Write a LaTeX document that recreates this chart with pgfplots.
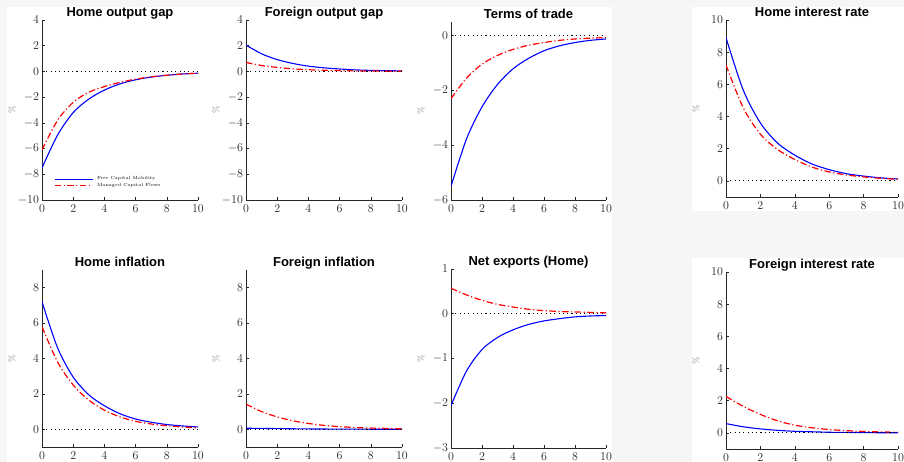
\documentclass[border=0pt]{standalone}
\usepackage{fontspec}
\usepackage{pgfplots}
\pgfplotsset{compat=1.18}
\newfontfamily\titlefont{Liberation Sans}
\definecolor{axcol}{rgb}{0.15,0.15,0.15}
\definecolor{bgcol}{RGB}{246,246,246}
\definecolor{lgblue}{RGB}{0,0,255}
\definecolor{lgred}{RGB}{255,0,0}
\pgfplotsset{
  myaxis/.style={
    scale only axis,
    anchor=south west,
    axis lines=left,
    axis line style={-, draw=axcol, line width=0.6pt},
    tick align=inside,
    major tick length=3pt,
    tick style={draw=axcol, line width=0.6pt},
    xmin=0, xmax=10, xtick={0,2,...,10},
    tick label style={font=\fontsize{11.5}{13}\selectfont, text=axcol},
    xticklabel style={yshift=-1.5pt},
    yticklabel style={xshift=0.5pt},
    title style={font=\titlefont\bfseries\fontsize{13}{14}\selectfont, at={(0.5,1)}, anchor=base, yshift=-3pt},
    ylabel={\%},
    every axis y label/.style={at={(axis description cs:0,0.5)}, xshift=-30pt, rotate=90, anchor=center, font=\fontsize{9}{10}\selectfont, text=gray},
  },
  bl/.style={blue, line width=1.1pt, smooth},
  rd/.style={red, line width=1.2pt, smooth, dash pattern=on 6.5pt off 2.5pt on 1.2pt off 2.5pt},
  zl/.style={black, line width=1pt, dash pattern=on 1.1pt off 3.2pt, forget plot},
}
\begin{document}
\begin{tikzpicture}[x=1pt,y=1pt]
\useasboundingbox (0,0) rectangle (904,462);
\fill[bgcol] (0,0) rectangle (904,462);
\fill[white] (7,0) rectangle (612,455);
\fill[white] (692,251) rectangle (904,455);
\fill[white] (692,0) rectangle (904,204);

% Home output gap
\begin{axis}[myaxis, at={(42pt,262pt)}, width=156pt, height=180pt,
  ymin=-10, ymax=4, ytick={-10,-8,...,4}, title={Home output gap},
  legend style={at={(axis cs:0.75,-8.1)}, anchor=north west, draw=none, fill=none,
    font=\fontsize{4.5}{5}\selectfont, inner sep=0pt,
    nodes={inner sep=1pt},
    /tikz/every odd column/.append style={column sep=3pt}},
  legend cell align=left]
\addlegendimage{legend image code/.code={\draw[draw=lgblue, line width=1.1pt, solid] (0pt,0pt) -- (38pt,0pt);}}
\addlegendentry{Free Capital Mobility}
\addlegendimage{legend image code/.code={\draw[draw=lgred, line width=1.2pt, dash pattern=on 6.5pt off 2.5pt on 1.2pt off 2.5pt] (0pt,0pt) -- (38pt,0pt);}}
\addlegendentry{Managed Capital Flows}
\addplot[bl, forget plot] coordinates {(0,-7.5) (1,-4.95) (2,-3.2) (3,-2.15) (4,-1.45) (5,-0.97) (6,-0.65) (7,-0.44) (8,-0.3) (9,-0.2) (10,-0.14)};
\addplot[rd, forget plot] coordinates {(0,-6.1) (1,-3.8) (2,-2.4) (3,-1.62) (4,-1.18) (5,-0.85) (6,-0.6) (7,-0.42) (8,-0.3) (9,-0.2) (10,-0.14)};
\addplot[zl] coordinates {(0,0) (10,0)};
\end{axis}

% Foreign output gap
\begin{axis}[myaxis, at={(246pt,262pt)}, width=156pt, height=180pt,
  ymin=-10, ymax=4, ytick={-10,-8,...,4}, title={Foreign output gap}]
\addplot[bl] coordinates {(0,2.05) (1,1.37) (2,0.92) (3,0.62) (4,0.41) (5,0.28) (6,0.19) (7,0.12) (8,0.08) (9,0.06) (10,0.04)};
\addplot[rd] coordinates {(0,0.7) (1,0.46) (2,0.31) (3,0.2) (4,0.13) (5,0.09) (6,0.06) (7,0.04) (8,0.03) (9,0.02) (10,0.01)};
\addplot[zl] coordinates {(0,0) (10,0)};
\end{axis}

% Terms of trade
\begin{axis}[myaxis, at={(451pt,262pt)}, width=155pt, height=178pt,
  ymin=-6, ymax=0.5, ytick={-6,-4,-2,0}, title={Terms of trade}]
\addplot[bl] coordinates {(0,-5.5) (1,-3.77) (2,-2.6) (3,-1.78) (4,-1.21) (5,-0.83) (6,-0.55) (7,-0.37) (8,-0.25) (9,-0.17) (10,-0.12)};
\addplot[rd] coordinates {(0,-2.3) (1,-1.55) (2,-1.04) (3,-0.72) (4,-0.5) (5,-0.35) (6,-0.25) (7,-0.17) (8,-0.12) (9,-0.09) (10,-0.07)};
\addplot[zl] coordinates {(0,0) (10,0)};
\end{axis}

% Home interest rate
\begin{axis}[myaxis, at={(726pt,265pt)}, width=172pt, height=177pt,
  ymin=-1, ymax=10, ytick={0,2,...,10}, title={Home interest rate}]
\addplot[bl] coordinates {(0,8.9) (1,5.65) (2,3.6) (3,2.35) (4,1.6) (5,1.05) (6,0.7) (7,0.45) (8,0.3) (9,0.19) (10,0.12)};
\addplot[rd] coordinates {(0,7.2) (1,4.55) (2,2.9) (3,1.95) (4,1.33) (5,0.86) (6,0.56) (7,0.37) (8,0.25) (9,0.16) (10,0.1)};
\addplot[zl] coordinates {(0,0) (10,0)};
\end{axis}

% Home inflation
\begin{axis}[myaxis, at={(42pt,15pt)}, width=156pt, height=177pt,
  ymin=-1, ymax=9, ytick={0,2,...,8}, title={Home inflation}]
\addplot[bl] coordinates {(0,7.2) (1,4.6) (2,2.95) (3,1.95) (4,1.33) (5,0.88) (6,0.58) (7,0.4) (8,0.27) (9,0.19) (10,0.13)};
\addplot[rd] coordinates {(0,5.8) (1,3.8) (2,2.5) (3,1.65) (4,1.08) (5,0.7) (6,0.45) (7,0.3) (8,0.2) (9,0.13) (10,0.08)};
\addplot[zl] coordinates {(0,0) (10,0)};
\end{axis}

% Foreign inflation
\begin{axis}[myaxis, at={(246pt,15pt)}, width=156pt, height=177pt,
  ymin=-1, ymax=9, ytick={0,2,...,8}, title={Foreign inflation}]
\addplot[bl] coordinates {(0,0.06) (1,0.05) (2,0.04) (3,0.03) (4,0.02) (5,0.015) (6,0.01) (7,0.01) (8,0.005) (9,0.005) (10,0)};
\addplot[rd] coordinates {(0,1.42) (1,1.0) (2,0.7) (3,0.48) (4,0.33) (5,0.22) (6,0.15) (7,0.1) (8,0.07) (9,0.05) (10,0.03)};
\addplot[zl] coordinates {(0,0) (10,0)};
\end{axis}

% Net exports
\begin{axis}[myaxis, at={(451pt,14pt)}, width=155pt, height=179pt,
  ymin=-3, ymax=1, ytick={-3,-2,-1,0,1}, title={Net exports (Home)}]
\addplot[bl] coordinates {(0,-2.05) (1,-1.28) (2,-0.8) (3,-0.53) (4,-0.36) (5,-0.24) (6,-0.16) (7,-0.11) (8,-0.07) (9,-0.05) (10,-0.04)};
\addplot[rd] coordinates {(0,0.57) (1,0.42) (2,0.3) (3,0.21) (4,0.15) (5,0.1) (6,0.07) (7,0.05) (8,0.04) (9,0.03) (10,0.02)};
\addplot[zl] coordinates {(0,0) (10,0)};
\end{axis}

% Foreign interest rate
\begin{axis}[myaxis, at={(726pt,13pt)}, width=172pt, height=177pt,
  ymin=-1, ymax=10, ytick={0,2,...,10}, title={Foreign interest rate}]
\addplot[bl] coordinates {(0,0.58) (1,0.38) (2,0.25) (3,0.16) (4,0.1) (5,0.07) (6,0.04) (7,0.03) (8,0.02) (9,0.01) (10,0.01)};
\addplot[rd] coordinates {(0,2.27) (1,1.65) (2,1.15) (3,0.75) (4,0.48) (5,0.32) (6,0.21) (7,0.14) (8,0.09) (9,0.06) (10,0.04)};
\addplot[zl] coordinates {(0,0) (10,0)};
\end{axis}
\end{tikzpicture}
\end{document}
